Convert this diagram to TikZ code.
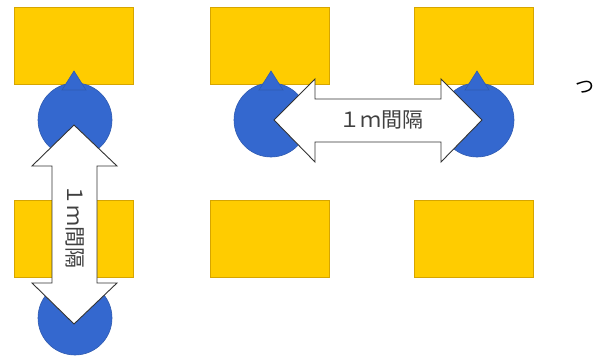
\documentclass[tikz,border=0pt]{standalone}
\usepackage{fontspec}
\newfontfamily\jp{Noto Sans CJK JP}
\definecolor{ylw}{HTML}{FFCC00}
\definecolor{ylwb}{HTML}{D6A500}
\definecolor{blu}{HTML}{3468CF}
\definecolor{blub}{HTML}{2F5BB0}
\definecolor{txt}{HTML}{404040}
\tikzset{
  seat/.style={fill=ylw,draw=ylwb,line width=0.8pt},
  head/.style={fill=blu,draw=blub,line width=0.6pt},
  tri/.style={fill=blu,draw=blub,line width=0.6pt,line join=miter},
  gap/.style={fill=white,draw=black!80,line width=0.9pt,line join=miter},
  lbl/.style={font=\jp\fontsize{21}{21}\selectfont,text=txt,inner sep=0pt}
}
\begin{document}
\begin{tikzpicture}[x=1pt,y=-1pt]
\useasboundingbox (0,0) rectangle (600,356);
% seats
\foreach \n/\x/\y in {a/14/7,b/210/7,c/414/7,d/14/200,e/210/200,f/414/200}{
  \path[seat] (\x,\y) rectangle ++(119,77);
}
% heads
\foreach \n/\x/\y in {ha/75/120,hb/271/120,hc/477/120,hd/75/318}{
  \path[head] (\x,\y) circle[radius=37];
}
% triangles
\foreach \x in {74,271,477}{
  \path[tri] (\x,71) -- (\x+12,90) -- (\x-12,90) -- cycle;
}
% vertical double arrow
\path[gap] (74,125) -- (117,166) -- (97,166) -- (97,283) -- (117,283) -- (74,324)
  -- (32,283) -- (52,283) -- (52,166) -- (32,166) -- cycle;
\node[lbl,rotate=-90] (vl) at (75,226) {１ｍ間隔};
% horizontal double arrow
\path[gap] (274,120) -- (315,79) -- (315,99) -- (441,99) -- (441,79) -- (482,120)
  -- (441,162) -- (441,142) -- (315,142) -- (315,162) -- cycle;
\node[lbl] (hl) at (381,120) {１ｍ間隔};
% stray character
\node[font=\jp\fontsize{19}{19}\selectfont,inner sep=0pt] (tsu) at (585,87) {つ};
\end{tikzpicture}
\end{document}
